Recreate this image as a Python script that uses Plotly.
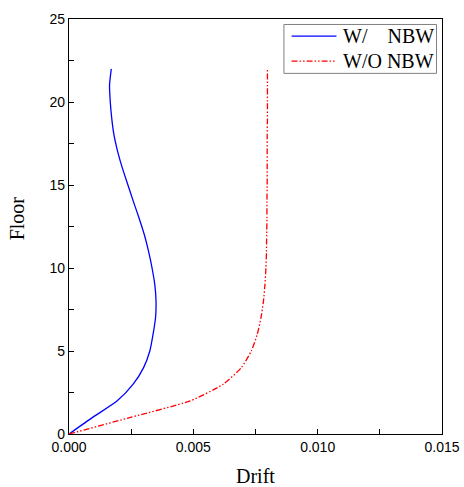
import plotly.graph_objects as go

floors = list(range(0, 23))
drift_with = [0.0, 0.00095, 0.00194, 0.00258, 0.0030, 0.00325, 0.00338, 0.00348, 0.00350,
              0.00345, 0.00334, 0.00320, 0.00303, 0.00282, 0.00259, 0.00237, 0.00215,
              0.00196, 0.00181, 0.00172, 0.00166, 0.00163, 0.00170]
drift_without = [0.0, 0.00247, 0.00488, 0.0062, 0.00693, 0.00733, 0.00757, 0.00772, 0.00782,
                 0.00788, 0.00792, 0.00794, 0.00795, 0.00796, 0.00796, 0.00797, 0.00797,
                 0.00797, 0.00797, 0.00798, 0.00798, 0.00798, 0.00798]
series_names = ["W/    NBW", "W/O NBW"]
series_colors = ["#0000ff", "#ff0000"]
series_dash = ["solid", "6px,2px,1.5px,2px,1.5px,2px"]

serif = "Liberation Serif, Times New Roman, serif"
sans = "Liberation Sans, Arial, sans-serif"

fig = go.Figure()
for xs, nm, col, dsh in zip([drift_with, drift_without], series_names, series_colors, series_dash):
    fig.add_trace(go.Scatter(x=xs, y=floors, mode="lines", name=nm, showlegend=False,
                             line=dict(color=col, width=1.3, dash=dsh, shape="spline", smoothing=0.6)))

# manual legend (paper coordinates of the plot area)
fig.add_shape(type="rect", xref="paper", yref="paper", x0=0.5762, x1=0.9853, y0=0.869, y1=0.9868,
              line=dict(color="#808080", width=1), fillcolor="white", layer="above")
legend_y = [0.9587, 0.8986]
for yy, nm, col, dsh in zip(legend_y, series_names, series_colors, series_dash):
    fig.add_shape(type="line", xref="paper", yref="paper", x0=0.5968, x1=0.7171, y0=yy, y1=yy,
                  line=dict(color=col, width=1.3, dash=dsh), layer="above")
    fig.add_annotation(xref="paper", yref="paper", x=0.7286, y=yy, xanchor="left", yanchor="middle",
                       text=nm.replace(" ", "&nbsp;"), showarrow=False,
                       font=dict(family=serif, size=20, color="black"))

# axis titles
fig.add_annotation(xref="paper", yref="paper", x=0.5, y=-0.1022, xanchor="center", yanchor="middle",
                   text="Drift", showarrow=False, font=dict(family=serif, size=20, color="black"))
fig.add_annotation(xref="paper", yref="paper", x=-0.1385, y=0.5204, xanchor="center", yanchor="middle",
                   text="Floor", textangle=-90, showarrow=False, font=dict(family=serif, size=20, color="black"))

fig.update_layout(
    width=464, height=487,
    margin=dict(l=68.5, r=21.5, t=18.5, b=52.5, autoexpand=False),
    paper_bgcolor="white", plot_bgcolor="white",
    showlegend=False,
    xaxis=dict(range=[0, 0.015], tickvals=[0, 0.005, 0.010, 0.015],
               ticktext=["0.000", "0.005", "0.010", "0.015"],
               ticks="inside", ticklen=5, tickcolor="black", tickwidth=1,
               minor=dict(dtick=0.0025, tick0=0, ticks="inside", ticklen=5, tickcolor="black", showgrid=False),
               showline=True, linecolor="black", linewidth=1.2, mirror=True,
               showgrid=False, zeroline=False, automargin=False,
               tickfont=dict(family=sans, size=14, color="black")),
    yaxis=dict(range=[0, 25], tickvals=[0, 5, 10, 15, 20, 25],
               ticks="inside", ticklen=5, tickcolor="black", tickwidth=1,
               minor=dict(dtick=2.5, tick0=0, ticks="inside", ticklen=5, tickcolor="black", showgrid=False),
               showline=True, linecolor="black", linewidth=1.2, mirror=True,
               showgrid=False, zeroline=False, automargin=False,
               tickfont=dict(family=sans, size=14, color="black")),
)

fig.write_html("out.html")
